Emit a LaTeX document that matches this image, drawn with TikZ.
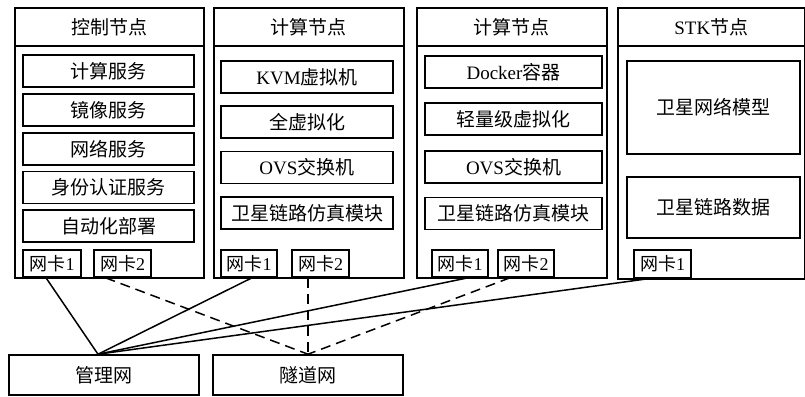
\documentclass[tikz,border=0pt]{standalone}
\usepackage{fontspec}
\setmainfont{Liberation Serif}
\newfontfamily\cjk{Noto Sans CJK SC}
\newcommand\zh[1]{{\cjk #1}}
\begin{document}
\begin{tikzpicture}[x=1pt,y=-1pt,
  outerbox/.style={draw,line width=1.6pt,anchor=north west,inner sep=0pt,font=\fontsize{19}{21}\selectfont},
  item/.style={draw,line width=1.6pt,inner sep=0pt,font=\fontsize{19}{21}\selectfont},
  nic/.style={draw,line width=1.6pt,inner sep=0pt,minimum height=27pt,font=\fontsize{18}{20}\selectfont},
  mg/.style={line width=1.5pt},
  tn/.style={line width=1.5pt,dash pattern=on 10pt off 6pt}]
\useasboundingbox (0,0) rectangle (805,396);
% outer node boxes
\node[outerbox,minimum width=189pt,minimum height=270pt] (ctrl) at (14,7) {};
\node[outerbox,minimum width=189pt,minimum height=38pt] (ctrlT) at (14,7) {\zh{控制节点}};
\node[outerbox,minimum width=190pt,minimum height=270pt] (cmpA) at (213,7) {};
\node[outerbox,minimum width=190pt,minimum height=38pt] (cmpAT) at (213,7) {\zh{计算节点}};
\node[outerbox,minimum width=190pt,minimum height=270pt] (cmpB) at (416,7) {};
\node[outerbox,minimum width=190pt,minimum height=38pt] (cmpBT) at (416,7) {\zh{计算节点}};
\node[outerbox,minimum width=187pt,minimum height=271pt] (stk) at (617,7) {};
\node[outerbox,minimum width=187pt,minimum height=38pt] (stkT) at (617,7) {STK\zh{节点}};
% control node items
\node[item,minimum width=171pt,minimum height=32pt] (c1) at (108.5,71) {\zh{计算服务}};
\node[item,minimum width=171pt,minimum height=32pt] (c2) at (108.5,110) {\zh{镜像服务}};
\node[item,minimum width=171pt,minimum height=32pt] (c3) at (108.5,149) {\zh{网络服务}};
\node[item,minimum width=171pt,minimum height=32pt] (c4) at (108.5,187.5) {\zh{身份认证服务}};
\node[item,minimum width=171pt,minimum height=32pt] (c5) at (108.5,226) {\zh{自动化部署}};
\node[nic,minimum width=58pt] (cn1) at (52,263.5) {\zh{网卡}1};
\node[nic,minimum width=57pt] (cn2) at (122.5,263.5) {\zh{网卡}2};
% compute node A
\node[item,minimum width=172pt,minimum height=32pt] (a1) at (307,77) {KVM\zh{虚拟机}};
\node[item,minimum width=172pt,minimum height=32pt] (a2) at (307,122) {\zh{全虚拟化}};
\node[item,minimum width=172pt,minimum height=32pt] (a3) at (307,167.5) {OVS\zh{交换机}};
\node[item,minimum width=172pt,minimum height=32pt] (a4) at (307,213) {\zh{卫星链路仿真模块}};
\node[nic,minimum width=56pt] (an1) at (249,263.5) {\zh{网卡}1};
\node[nic,minimum width=57pt] (an2) at (320.5,263.5) {\zh{网卡}2};
% compute node B
\node[item,minimum width=177pt,minimum height=32pt] (b1) at (513.5,72) {Docker\zh{容器}};
\node[item,minimum width=177pt,minimum height=32pt] (b2) at (513.5,119) {\zh{轻量级虚拟化}};
\node[item,minimum width=177pt,minimum height=32pt] (b3) at (513.5,167) {OVS\zh{交换机}};
\node[item,minimum width=177pt,minimum height=32pt] (b4) at (513.5,213.5) {\zh{卫星链路仿真模块}};
\node[nic,minimum width=56pt] (bn1) at (460,263.5) {\zh{网卡}1};
\node[nic,minimum width=56pt] (bn2) at (526,263.5) {\zh{网卡}2};
% STK node
\node[item,minimum width=173pt,minimum height=93pt] (s1) at (713.5,107.5) {\zh{卫星网络模型}};
\node[item,minimum width=173pt,minimum height=61pt] (s2) at (713.5,207.5) {\zh{卫星链路数据}};
\node[nic,minimum width=57pt,minimum height=28pt] (sn1) at (662.5,264) {\zh{网卡}1};
% networks
\node[item,minimum width=190pt,minimum height=40pt] (mgmt) at (104,375) {\zh{管理网}};
\node[item,minimum width=190pt,minimum height=40pt] (tun) at (308,375) {\zh{隧道网}};
% connectors
\draw[mg] ([xshift=-6pt]cn1.south) -- ([xshift=-6pt]mgmt.north);
\draw[mg] ([xshift=3pt]an1.south) -- ([xshift=-6pt]mgmt.north);
\draw[mg] ([xshift=8pt]bn1.south) -- ([xshift=-6pt]mgmt.north);
\draw[mg] ([xshift=-15pt]sn1.south) -- ([xshift=-6pt]mgmt.north);
\draw[tn] ([xshift=-17pt]cn2.south) -- (tun.north);
\draw[tn] ([xshift=-12.5pt]an2.south) -- (tun.north);
\draw[tn] ([xshift=-16pt]bn2.south) -- (tun.north);
\end{tikzpicture}
\end{document}
